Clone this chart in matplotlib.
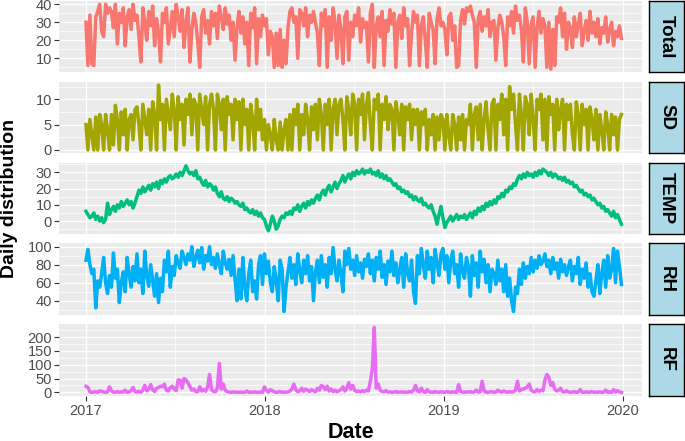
import numpy as np
import pandas as pd
import matplotlib
matplotlib.use('Agg')
import matplotlib.pyplot as plt

# values, one every 4 days from 2017-01-01
total = [
    30, 6, 34, 7, 6, 33, 36, 40, 25, 22, 40, 35, 38,
    36, 27, 40, 18, 35, 30, 38, 17, 33, 37, 26, 40, 31,
    34, 22, 8, 38, 30, 20, 36, 28, 39, 17, 32, 24, 8,
    35, 30, 38, 18, 27, 36, 22, 40, 33, 25, 37, 16, 30,
    38, 8, 26, 35, 30, 19, 5, 33, 37, 24, 31, 18, 36,
    28, 35, 21, 39, 33, 26, 38, 29, 34, 20, 30, 9, 27,
    36, 24, 33, 18, 30, 6, 35, 27, 38, 7, 32, 22, 34,
    28, 32, 12, 25, 22, 5, 24, 6, 26, 5, 20, 7, 27,
    36, 38, 30, 33, 10, 37, 35, 28, 38, 22, 34, 30, 36,
    30, 24, 6, 35, 28, 37, 5, 33, 20, 38, 30, 10, 34,
    26, 7, 33, 36, 9, 30, 22, 34, 28, 38, 19, 32, 27,
    30, 8, 35, 40, 5, 28, 33, 22, 36, 6, 31, 25, 37,
    29, 35, 5, 30, 34, 21, 38, 28, 32, 6, 24, 36, 30,
    34, 6, 28, 33, 20, 5, 35, 30, 26, 7, 32, 38, 28,
    30, 26, 12, 33, 35, 20, 28, 5, 6, 31, 37, 29, 38,
    36, 39, 34, 30, 5, 32, 36, 25, 33, 28, 37, 22, 30,
    31, 9, 27, 34, 30, 22, 6, 33, 28, 36, 24, 39, 31,
    34, 26, 8, 38, 30, 7, 29, 33, 5, 27, 36, 24, 32,
    28, 5, 30, 4, 26, 6, 33, 30, 38, 22, 35, 15, 30,
    27, 16, 33, 22, 29, 35, 17, 25, 31, 20, 36, 24, 30,
    22, 32, 18, 27, 24, 33, 19, 26, 30, 17, 25, 22, 28,
    21]

sd = [
    5, 0, 6, 3, 0, 6.5, 0, 7, 5, 0, 7, 4, 0,
    7, 1, 8.8, 6, 0, 7.5, 3, 8, 0, 6, 7, 2, 8,
    8.5, 5, 0, 9, 6, 3, 8, 0, 9.5, 7, 0, 12.8, 6,
    9, 0, 10, 7, 4, 11, 8, 0, 10.5, 6, 9, 1, 10,
    7, 11, 3, 10, 9, 0, 11, 8, 5, 10.5, 0, 9, 11,
    8, 0, 11, 9, 4, 10, 0, 10.5, 7, 9, 2, 10, 6,
    9.5, 0, 10, 5, 8, 0, 9, 6, 0, 10, 4, 8, 2,
    6, 0, 5, 3, 0, 6, 2, 0, 5.5, 0, 4, 6, 0,
    7, 0, 8, 5, 9, 0, 7, 3, 9, 6, 0, 8.5, 4,
    9, 2, 10, 7, 0, 9, 5, 10, 0, 8, 10, 3, 9,
    10, 6, 0, 10.5, 8, 3, 11, 9, 0, 10, 7, 11, 2,
    9, 11.3, 5, 0, 10, 8, 11, 0, 9, 6, 10.5, 4, 9,
    8, 0, 9.5, 7, 3, 9, 0, 8.5, 6, 9, 2, 8, 5,
    8, 0, 7.5, 5, 8, 0, 6, 3, 7, 0, 6.5, 2, 7,
    6, 0, 7, 3, 0, 7, 5, 0, 6.5, 2, 7, 0, 6,
    5, 9, 0, 7, 8.5, 2, 9, 0, 6, 9.5, 4, 0, 9,
    10, 0, 9, 6, 11, 3, 10, 0, 12.5, 8, 11, 5, 0,
    11, 7, 0, 10.5, 9, 3, 11, 6, 0, 10, 8, 11, 2,
    10, 0, 10.5, 7, 9, 0, 10, 4, 8, 10, 0, 9, 6,
    9, 3, 0, 9.5, 7, 0, 9, 5, 8, 0, 8.5, 6, 2,
    8, 0, 7, 4, 0, 7.5, 5, 0, 7, 3, 6.5, 0, 6,
    7]

temp = [
    6, 4, 2, 3, 5, 1, 3, 0, 2, -1, 1, 11, 4,
    7, 9, 6, 10, 8, 12, 9, 11, 13, 10, 12, 8, 11,
    15, 19, 17, 21, 18, 20, 22, 19, 23, 21, 24, 20, 25,
    23, 26, 24, 27, 28, 26, 27, 29, 27, 30, 28, 31, 34,
    31, 29, 30, 28, 31, 26, 27, 24, 22, 25, 21, 23, 22,
    19, 21, 17, 15, 18, 14, 13, 15, 12, 14, 13, 11, 12,
    10, 9, 11, 7, 8, 6, 5, 7, 4, 6, 3, 5, 2,
    1, -3, -6, -2, 3, 0, -5, -3, 1, 3, 2, 5, 4,
    6, 4, 8, 7, 10, 6, 9, 11, 8, 12, 10, 13, 11,
    14, 16, 13, 17, 19, 16, 20, 22, 18, 21, 24, 20, 23,
    25, 28, 24, 27, 29, 26, 30, 28, 31, 29, 30, 32, 29,
    31, 30, 32, 29, 30, 28, 31, 27, 29, 26, 28, 25, 26,
    24, 22, 23, 20, 21, 18, 19, 17, 18, 15, 16, 13, 15,
    13, 12, 14, 10, 11, 9, 8, 10, 6, 3, -2, 4, 9,
    2, -4, -1, 1, 3, 0, 2, 4, 1, 3, 2, 4, 1,
    3, 5, 2, 6, 4, 8, 6, 9, 7, 11, 9, 12, 10,
    13, 11, 15, 14, 17, 15, 19, 18, 21, 20, 23, 22, 26,
    28, 26, 29, 27, 30, 28, 29, 27, 30, 28, 31, 29, 32,
    31, 30, 28, 30, 27, 29, 28, 26, 27, 25, 27, 24, 25,
    23, 24, 21, 22, 20, 18, 19, 16, 17, 15, 16, 13, 14,
    12, 10, 11, 8, 9, 6, 7, 5, 3, 6, 2, 4, 1,
    -2]

rh = [
    85, 97, 80, 70, 75, 32, 62, 55, 70, 88, 60, 48, 68,
    55, 93, 65, 75, 38, 60, 72, 50, 88, 70, 55, 78, 62,
    92, 60, 75, 48, 95, 68, 56, 80, 62, 45, 70, 38, 65,
    50, 85, 72, 95, 55, 78, 68, 90, 82, 76, 95, 88, 80,
    92, 85, 100, 78, 88, 96, 82, 99, 75, 90, 84, 100, 80,
    88, 76, 92, 80, 70, 95, 82, 75, 86, 68, 90, 64, 40,
    75, 42, 88, 55, 40, 70, 85, 50, 62, 42, 80, 90, 58,
    92, 70, 84, 60, 50, 78, 62, 40, 85, 75, 28, 55, 72,
    88, 65, 80, 58, 92, 74, 60, 85, 70, 90, 62, 78, 40,
    72, 85, 60, 90, 66, 80, 55, 88, 70, 99, 75, 62, 85,
    70, 50, 95, 80, 98, 75, 85, 68, 90, 72, 82, 65, 86,
    78, 92, 70, 85, 62, 88, 75, 95, 66, 80, 58, 84, 72,
    95, 68, 82, 60, 75, 88, 55, 92, 70, 62, 85, 50, 37,
    90, 70, 98, 80, 65, 95, 75, 88, 60, 97, 82, 68, 92,
    98, 75, 90, 60, 85, 95, 70, 80, 55, 92, 72, 65, 88,
    78, 45, 90, 68, 82, 55, 95, 72, 86, 60, 80, 50, 75,
    70, 58, 85, 62, 75, 50, 80, 45, 65, 40, 28, 55, 48,
    75, 58, 82, 65, 78, 70, 88, 72, 85, 76, 90, 80, 84,
    92, 78, 85, 70, 88, 75, 82, 65, 86, 72, 80, 68, 78,
    85, 62, 78, 70, 88, 58, 75, 65, 82, 55, 70, 50, 45,
    62, 80, 48, 70, 85, 55, 90, 65, 75, 98, 60, 95, 78,
    58]

rf = [
    22, 18, 2, 0, 1, 3, 0, 5, 4, 1, 0, 2, 20,
    6, 1, 0, 3, 0, 2, 1, 8, 0, 2, 6, 18, 3,
    1, 4, 0, 8, 25, 6, 12, 28, 10, 3, 15, 18, 22,
    20, 30, 8, 5, 18, 22, 12, 6, 45, 44, 15, 50, 45,
    35, 20, 8, 12, 3, 2, 20, 5, 10, 4, 18, 65, 10,
    4, 2, 15, 105, 12, 30, 8, 3, 1, 0, 2, 0, 1,
    0, 1, 0, 0, 5, 0, 1, 0, 2, 0, 0, 1, 0,
    20, 8, 1, 10, 6, 2, 0, 1, 3, 0, 1, 0, 2,
    5, 12, 30, 10, 2, 6, 15, 4, 12, 8, 3, 10, 6,
    2, 15, 8, 25, 20, 10, 22, 5, 12, 3, 8, 2, 6,
    10, 20, 5, 15, 35, 12, 25, 8, 3, 5, 2, 6, 3,
    8, 5, 40, 85, 235, 15, 30, 8, 3, 2, 6, 1, 2,
    0, 1, 3, 0, 1, 2, 0, 1, 0, 3, 1, 8, 25,
    5, 2, 15, 3, 0, 10, 2, 1, 0, 3, 1, 0, 2,
    1, 0, 3, 1, 0, 2, 1, 0, 28, 4, 1, 0, 2,
    1, 3, 0, 2, 8, 1, 3, 40, 5, 1, 0, 2, 3,
    0, 1, 8, 3, 1, 5, 2, 0, 3, 1, 2, 8, 40,
    5, 10, 12, 15, 20, 30, 8, 3, 2, 10, 4, 8, 6,
    45, 65, 55, 25, 35, 12, 5, 8, 15, 3, 1, 6, 2,
    0, 1, 3, 0, 2, 10, 1, 0, 2, 0, 1, 3, 0,
    1, 0, 2, 0, 1, 8, 0, 2, 0, 10, 1, 6, 2,
    0]

panel_names = ['Total', 'SD', 'TEMP', 'RH', 'RF']
panel_colors = ['#F8766D', '#A3A500', '#00BF7D', '#00B0F6', '#E76BF3']
y_breaks = [[10, 20, 30, 40], [0, 5, 10], [0, 10, 20, 30],
            [40, 60, 80, 100], [0, 50, 100, 150, 200]]
x_breaks = ['2017-01-01', '2018-01-01', '2019-01-01', '2020-01-01']
x_minor = ['2017-07-01', '2018-07-01', '2019-07-01']
x_labels = ['2017', '2018', '2019', '2020']

series = [total, sd, temp, rh, rf]
dates = pd.date_range('2017-01-01', periods=len(total), freq='4D')

plt.rcParams['font.family'] = ['Liberation Sans', 'DejaVu Sans']

W, H = 685, 441
fig = plt.figure(figsize=(W / 100, H / 100), dpi=100)

left, right = 59, 642
strip_l, strip_r = 649, 684
top0, ph, gap = 1, 71.4, 9.4

xlo = pd.Timestamp('2017-01-01') - pd.Timedelta(days=55)
xhi = pd.Timestamp('2020-01-01') + pd.Timedelta(days=39)

for i, (name, vals, col, yb) in enumerate(zip(panel_names, series, panel_colors, y_breaks)):
    ytop = top0 + i * (ph + gap)
    rect = [left / W, 1 - (ytop + ph) / H, (right - left) / W, ph / H]
    ax = fig.add_axes(rect)
    ax.set_facecolor('#EBEBEB')
    for s in ax.spines.values():
        s.set_visible(False)

    lo, hi = min(vals), max(vals)
    pad = 0.05 * (hi - lo)
    ax.set_ylim(lo - pad, hi + pad)
    ax.set_xlim(xlo, xhi)

    # grid: majors + halfway minors (ggplot style)
    step = yb[1] - yb[0]
    minors = np.arange(yb[0] - step / 2, yb[-1] + step, step)
    for m in minors:
        if lo - pad < m < hi + pad:
            ax.axhline(m, color='white', lw=0.5, zorder=0)
    for b in yb:
        ax.axhline(b, color='white', lw=1.0, zorder=0)
    for d in x_minor:
        ax.axvline(pd.Timestamp(d), color='white', lw=0.5, zorder=0)
    for d in x_breaks:
        ax.axvline(pd.Timestamp(d), color='white', lw=1.0, zorder=0)

    ax.plot(dates, vals, color=col, lw=2.5, solid_joinstyle='round', zorder=2)

    ax.set_yticks(yb)
    ax.set_yticklabels([str(b) for b in yb])
    ax.tick_params(axis='y', length=3.5, width=0.8, color='#333333',
                   labelcolor='#4D4D4D', labelsize=10.5, pad=1.5)
    ax.set_xticks([pd.Timestamp(d) for d in x_breaks])
    if i == len(panel_names) - 1:
        ax.set_xticklabels(x_labels)
        ax.tick_params(axis='x', length=3.5, width=0.8, color='#333333',
                       labelcolor='#4D4D4D', labelsize=10.5, pad=2.5)
    else:
        ax.set_xticklabels([])
        ax.tick_params(axis='x', length=0)

    # facet strip on the right
    sax = fig.add_axes([strip_l / W, 1 - (ytop + ph) / H, (strip_r - strip_l) / W, ph / H])
    sax.set_facecolor('#ADD8E6')
    sax.set_xticks([])
    sax.set_yticks([])
    for s in sax.spines.values():
        s.set_color('black')
        s.set_linewidth(1.0)
    sax.text(0.5, 0.5, name, rotation=270, ha='center', va='center',
             fontsize=13.5, fontweight='bold', color='black', transform=sax.transAxes)

fig.text((left + right) / 2 / W, 1 - 432 / H, 'Date', ha='center', va='center',
         fontsize=15.5, fontweight='bold')
fig.text(10 / W, 1 - 198 / H, 'Daily distribution', ha='center', va='center',
         rotation=90, fontsize=14, fontweight='bold')

fig.savefig('out.png', dpi=100)
